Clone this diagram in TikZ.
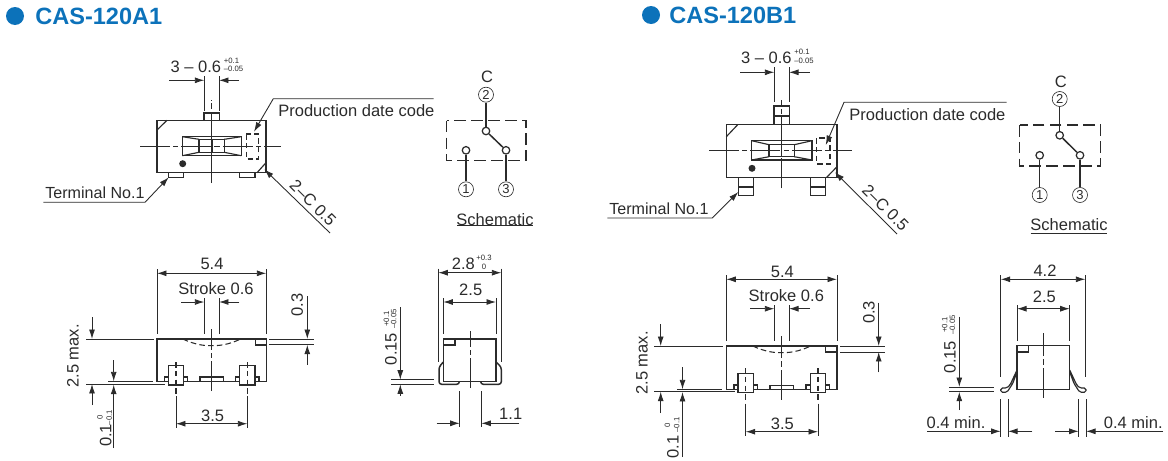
\documentclass[tikz,border=0pt]{standalone}
\usepackage{fontspec}
\setmainfont{Liberation Sans}
\usetikzlibrary{arrows.meta}
\definecolor{inkgray}{HTML}{2B2B2B}
\definecolor{titleblue}{HTML}{0C72BA}
\tikzset{
  part/.style={draw=inkgray,line width=0.85pt},
  thin part/.style={draw=inkgray,line width=0.65pt},
  dimline/.style={draw=inkgray,line width=0.5pt},
  dimtip/.style={dimline,-{Latex[length=5.4pt,width=3.4pt]}},
  dimboth/.style={dimline,{Latex[length=5.4pt,width=3.4pt]}-{Latex[length=5.4pt,width=3.4pt]}},
  axis/.style={dimline,dash pattern=on 17pt off 1.8pt on 3pt off 1.8pt},
  hidden/.style={draw=inkgray,line width=0.6pt,dash pattern=on 3.2pt off 1.8pt},
  boxdash/.style={draw=inkgray,line width=0.75pt,dash pattern=on 6.6pt off 3pt},
  txt/.style={font=\fontsize{9.4}{11}\selectfont,text=inkgray},
  termtxt/.style={font=\fontsize{9.15}{11}\selectfont,text=inkgray},
  tol/.style={font=\fontsize{4.4}{5}\selectfont,text=inkgray},
  headline/.style={font=\fontsize{13.4}{15}\selectfont\bfseries,text=titleblue,anchor=west},
  pinmark/.style={draw=inkgray,line width=0.35pt,circle,minimum size=0.3cm,font=\fontsize{7.4}{8}\selectfont,text=inkgray},
  contact/.style={draw=inkgray,line width=0.7pt,circle,fill=white,minimum size=0.15cm},
}
\begin{document}
\begin{tikzpicture}[x=0.02cm,y=-0.02cm,every node/.style={inner sep=0pt}]
\useasboundingbox (0,0) rectangle (1168,460);

% CAS-120A1
\fill[titleblue] (15,16) circle (9);
\node[headline] (titleA) at (35,16) {CAS-120A1};

% top view
\draw[part] (157,120.3) rectangle (266,172.7);
\draw[thin part] (157,130) -- (167,120.3);
\draw[thin part] (257,172.7) -- (266,162.7);
\draw[thin part] (204,120.3) rectangle (219.3,113);
\draw[thin part] (168.7,172.7) rectangle (183.7,177.7);
\draw[thin part] (239.7,172.7) rectangle (255,177.7);
\draw[part] (182.3,136.7) rectangle (241.3,155.7);
\draw[thin part] (199,139.3) rectangle (224.3,152.3);
\draw[part] (212,139.3) rectangle (224.3,152.3);
\draw[thin part] (182.3,136.7) -- (199,139.3) (241.3,136.7) -- (224.3,139.3) (182.3,155.7) -- (199,152.3) (241.3,155.7) -- (224.3,152.3);
\draw[hidden] (246.3,134) rectangle (258.7,159);
\fill[inkgray] (182.7,163.7) circle (3.5);
\draw[axis] (140,146) -- (281,146);
\draw[axis] (211.7,183) -- (211.7,100);

\draw[dimline] (204.3,76) -- (204.3,110.7);
\draw[dimline] (219,76) -- (219,110.7);
\draw[dimtip] (169,80.3) -- (204.3,80.3);
\draw[dimtip] (239,80.3) -- (219,80.3);
\node[txt,anchor=east] (pitchA) at (221.5,66.7) {3 -- 0.6};
\node[tol,anchor=west] (pitchAu) at (223.5,60.5) {+0.1};
\node[tol,anchor=west] (pitchAl) at (223.5,69.2) {--0.05};

\draw[dimtip] (433.7,98.7) -- (273.3,98.7) -- (254,131.7);
\node[txt,anchor=west] (dateA) at (278,110.5) {Production date code};
\draw[dimtip] (43.3,202.3) -- (145,202.3) -- (168.7,177.3);
\node[termtxt,anchor=west] (termA) at (45,193) {Terminal No.1};
\draw[dimtip] (330,233) -- (264.3,169.3);
\node[txt,rotate=-45] (chamA) at (313,203) {2--C 0.5};

% schematic
\draw[boxdash] (446.7,120.7) rectangle (526,160.7);
\node[txt] (labelC) at (487,77.3) {C};
\node[pinmark] (pin2) at (486,94.7) {2};
\node[pinmark] (pin1) at (466,189.3) {1};
\node[pinmark] (pin3) at (506,189.3) {3};
\node[contact] (con2) at (486,131) {};
\node[contact] (con1) at (466,150.3) {};
\node[contact] (con3) at (506,150.3) {};
\draw[part] (pin2) -- (con2);
\draw[part] (con2) -- (con3);
\draw[part] (con1) -- (pin1);
\draw[part] (con3) -- (pin3);
\node[txt] (schemA) at (495,220) {Schematic};
\draw[part,line width=0.6pt] (457,225.7) -- (533,225.7);

% front view
\draw[part] (157,339) rectangle (266.3,381.3);
\draw[thin part] (255.3,339) rectangle (266.3,345);
\draw[hidden] (182.7,339) .. controls (196,345) and (204,345.7) .. (211.7,345.7) .. controls (219,345.7) and (228,345) .. (240.7,339);
\draw[thin part,fill=white] (164.3,377) rectangle (187.7,381.3);
\draw[thin part,fill=white] (235.7,377) rectangle (259,381.3);
\draw[part,fill=white] (168.3,365.7) rectangle (183.7,385);
\draw[part,fill=white] (239.7,365.7) rectangle (255,385);
\draw[thin part,fill=white] (200,377) rectangle (223.3,381.3);
\draw[axis] (211.7,391) -- (211.7,329.3);
\draw[hidden] (176,362) -- (176,395);
\draw[hidden] (247.3,362) -- (247.3,395);

\draw[dimline] (157,269) -- (157,334);
\draw[dimline] (266.3,269) -- (266.3,334);
\draw[dimboth] (157,273.3) -- (266.3,273.3);
\node[txt] (widthA) at (212,264) {5.4};
\draw[dimline] (204.3,298) -- (204.3,334);
\draw[dimline] (219,298) -- (219,334);
\draw[dimtip] (181,302) -- (204.3,302);
\draw[dimtip] (239.3,302) -- (219,302);
\node[txt] (strokeA) at (216,288.7) {Stroke 0.6};
\draw[dimline] (176,396) -- (176,427.7);
\draw[dimline] (247.3,396) -- (247.3,427.7);
\draw[dimboth] (176,423.7) -- (247.3,423.7);
\node[txt] (pinpitchA) at (212.7,415.7) {3.5};
\draw[dimline] (269,339) -- (314,339);
\draw[dimline] (269,344.7) -- (314,344.7);
\draw[dimtip] (307.3,296) -- (307.3,339);
\draw[dimtip] (307.3,364.7) -- (307.3,344.7);
\node[txt,rotate=90] (gapA) at (297.3,305) {0.3};
\draw[dimline] (86,339) -- (153.7,339);
\draw[dimline] (86,384) -- (165,384);
\draw[dimtip] (92,317) -- (92,339);
\draw[dimtip] (92,405) -- (92,384);
\node[txt,rotate=90] (heightA) at (73,356) {2.5 max.};
\draw[dimline] (108,381.3) -- (152.7,381.3);
\draw[dimtip] (113.7,360) -- (113.7,381.3);
\draw[dimtip] (113.7,448) -- (113.7,384.7);
\node[txt,rotate=90] (standA) at (105.7,435.5) {0.1};
\node[tol,rotate=90] (standAu) at (100,417.5) {0};
\node[tol,rotate=90] (standAl) at (109.3,417.5) {--0.1};

% side view
\draw[part] (443.3,339) rectangle (496,381.3);
\draw[thin part] (443.3,339) rectangle (455,345);
\draw[axis] (470,388) -- (470,331);
\draw[part,rounded corners=1.5pt] (443.3,362) -- (439,367) -- (439,384.3) -- (459.3,384.3) -- (459.3,381.3);
\draw[part,rounded corners=1.5pt] (496,362) -- (501.3,367) -- (501.3,384.3) -- (480.7,384.3) -- (480.7,381.3);
\draw[dimline] (438.3,268.7) -- (438.3,361.7);
\draw[dimline] (501.3,268.7) -- (501.3,361.7);
\draw[dimboth] (438.3,272.7) -- (501.3,272.7);
\node[txt] (widthB) at (463.3,264) {2.8};
\node[tol] (widthBu) at (484,257.5) {+0.3};
\node[tol] (widthBl) at (484,267) {0};
\draw[dimline] (443.3,298) -- (443.3,334);
\draw[dimline] (496,298) -- (496,334);
\draw[dimboth] (443.3,302) -- (496,302);
\node[txt] (bodyA) at (470.7,290) {2.5};
\draw[dimline] (391,379.7) -- (434.3,379.7);
\draw[dimline] (391,384.3) -- (434.3,384.3);
\draw[dimtip] (400.3,307.3) -- (400.3,379.7);
\draw[dimtip] (400.3,395.7) -- (400.3,384.3);
\node[txt,rotate=90] (thickA) at (391,349) {0.15};
\node[tol,rotate=90] (thickAu) at (386.4,319) {+0.1};
\node[tol,rotate=90] (thickAl) at (393.6,319) {--0.05};
\draw[dimline] (459.7,391) -- (459.7,426.7);
\draw[dimline] (481.3,391) -- (481.3,426.7);
\draw[dimtip] (436.7,423.3) -- (459.7,423.3);
\draw[dimtip] (519.3,423.3) -- (481.3,423.3);
\node[txt] (padA) at (510.7,414) {1.1};

% CAS-120B1
\fill[titleblue] (651,15) circle (9);
\node[headline] (titleB) at (669,15) {CAS-120B1};

% top view
\draw[part] (726.3,124.7) rectangle (837,177.3);
\draw[thin part] (726.3,136.7) -- (737.7,124.7);
\draw[thin part] (826.7,177.3) -- (837,166.7);
\draw[part] (774,124.7) rectangle (789.3,106);
\draw[thin part] (774,116) -- (789.3,116);
\draw[part] (738.3,177.3) rectangle (753.3,195.7);
\draw[thin part] (738.3,187) -- (753.3,187);
\draw[part] (810.3,177.3) rectangle (825.3,195.7);
\draw[thin part] (810.3,187) -- (825.3,187);
\draw[part] (751.7,140.7) rectangle (812,160);
\draw[thin part] (769,144.7) rectangle (794.3,156.7);
\draw[part] (781.7,144.7) rectangle (794.3,156.7);
\draw[thin part] (751.7,140.7) -- (769,144.7) (812,140.7) -- (794.3,144.7) (751.7,160) -- (769,156.7) (812,160) -- (794.3,156.7);
\draw[hidden] (816.7,138) rectangle (830,164);
\fill[inkgray] (752,168.3) circle (3.5);
\draw[axis] (709,150.3) -- (852,150.3);
\draw[axis] (781.7,188.3) -- (781.7,100);

\draw[dimline] (774.3,67.3) -- (774.3,102);
\draw[dimline] (789,67.3) -- (789,102);
\draw[dimtip] (740,72.3) -- (774.3,72.3);
\draw[dimtip] (809.7,72.3) -- (789,72.3);
\node[txt,anchor=east] (pitchC) at (792,58.3) {3 -- 0.6};
\node[tol,anchor=west] (pitchCu) at (794,51.8) {+0.1};
\node[tol,anchor=west] (pitchCl) at (794,61.2) {--0.05};

\draw[dimtip] (1006.7,102.3) -- (844,102.3) -- (825.7,145);
\node[txt,anchor=west] (dateC) at (849,115) {Production date code};
\draw[dimtip] (607.3,218) -- (712.3,218) -- (738.3,192);
\node[termtxt,anchor=west] (termC) at (609,209) {Terminal No.1};
\draw[dimtip] (897,234) -- (835,172.3);
\node[txt,rotate=-45] (chamC) at (885.5,207.5) {2--C 0.5};

% schematic
\draw[boxdash] (1019.7,125) rectangle (1100.7,166);
\node[txt] (labelD) at (1060.7,81.7) {C};
\node[pinmark] (pin5) at (1059.7,99) {2};
\node[pinmark] (pin4) at (1039.7,195) {1};
\node[pinmark] (pin6) at (1080,195) {3};
\node[contact] (con5) at (1059.7,135.3) {};
\node[contact] (con4) at (1039.7,155.3) {};
\node[contact] (con6) at (1080,155.3) {};
\draw[part] (pin5) -- (con5);
\draw[part] (con5) -- (con6);
\draw[part] (con4) -- (pin4);
\draw[part] (con6) -- (pin6);
\node[txt] (schemC) at (1069,225) {Schematic};
\draw[part,line width=0.6pt] (1030.7,233.3) -- (1107,233.3);

% front view
\draw[part] (726.3,346) rectangle (837,389.7);
\draw[thin part] (825.7,346) rectangle (837,352);
\draw[hidden] (752.7,346) .. controls (766,352) and (774,352.7) .. (781.7,352.7) .. controls (789,352.7) and (798,352) .. (810.7,346);
\draw[thin part,fill=white] (734,385) rectangle (757.7,389.7);
\draw[thin part,fill=white] (806,385) rectangle (829.7,389.7);
\draw[part,fill=white] (738,373.3) rectangle (753.3,392.3);
\draw[part,fill=white] (810.3,373.3) rectangle (825.3,392.3);
\draw[thin part,fill=white] (770,385.7) rectangle (793.7,389.7);
\draw[axis] (781.7,399.7) -- (781.7,336);
\draw[hidden] (745.7,368) -- (745.7,400);
\draw[hidden] (818,368) -- (818,400);

\draw[dimline] (726.3,275) -- (726.3,341);
\draw[dimline] (837,275) -- (837,341);
\draw[dimboth] (726.3,279.3) -- (837,279.3);
\node[txt] (widthC) at (782.3,271.7) {5.4};
\draw[dimline] (774.3,305) -- (774.3,341);
\draw[dimline] (789,305) -- (789,341);
\draw[dimtip] (750.3,308.7) -- (774.3,308.7);
\draw[dimtip] (810,308.7) -- (789,308.7);
\node[txt] (strokeC) at (786.3,296) {Stroke 0.6};
\draw[dimline] (745.7,403.7) -- (745.7,436.3);
\draw[dimline] (818,403.7) -- (818,436.3);
\draw[dimboth] (745.7,431.7) -- (818,431.7);
\node[txt] (pinpitchC) at (782.3,424.3) {3.5};
\draw[dimline] (840,346) -- (885.3,346);
\draw[dimline] (840,352) -- (885.3,352);
\draw[dimtip] (878.7,302.7) -- (878.7,346);
\draw[dimtip] (878.7,372.3) -- (878.7,352);
\node[txt,rotate=90] (gapC) at (869,312.3) {0.3};
\draw[dimline] (654.3,346) -- (722.7,346);
\draw[dimline] (654.3,391.7) -- (735,391.7);
\draw[dimtip] (660.7,324) -- (660.7,346);
\draw[dimtip] (660.7,413) -- (660.7,391.7);
\node[txt,rotate=90] (heightC) at (642,363) {2.5 max.};
\draw[dimline] (677.3,389.3) -- (722,389.3);
\draw[dimtip] (682.5,367.3) -- (682.5,389.3);
\draw[dimtip] (682.5,457) -- (682.5,392);
\node[txt,rotate=90] (standC) at (673,447) {0.1};
\node[tol,rotate=90] (standCu) at (667.5,425) {0};
\node[tol,rotate=90] (standCl) at (676.7,425) {--0.1};

% side view
\draw[part] (1017,345.7) rectangle (1069.7,389.3);
\draw[thin part] (1017,345.7) rectangle (1028.3,352);
\draw[axis] (1043.3,397.7) -- (1043.3,333);
\draw[thin part,rounded corners=1pt] (1017,370) -- (1010,385) -- (1007,388) -- (1000.7,388) -- (1000.7,392.3) -- (1007,392.3) -- (1012.7,383.5) -- (1017,372);
\draw[thin part,rounded corners=1pt] (1069.7,370) -- (1076.7,385) -- (1079.7,388) -- (1086,388) -- (1086,392.3) -- (1079.7,392.3) -- (1074,383.5) -- (1069.7,372);
\draw[dimline] (1000.7,275) -- (1000.7,376.7);
\draw[dimline] (1085.3,275) -- (1085.3,376.7);
\draw[dimboth] (1000.7,279.3) -- (1085.3,279.3);
\node[txt] (widthD) at (1045,271) {4.2};
\draw[dimline] (1017,305) -- (1017,341);
\draw[dimline] (1069.7,305) -- (1069.7,341);
\draw[dimboth] (1017,308.7) -- (1069.7,308.7);
\node[txt] (bodyC) at (1044.3,296.7) {2.5};
\draw[dimline] (949.3,387) -- (994,387);
\draw[dimline] (949.3,391.7) -- (994,391.7);
\draw[dimtip] (959.3,316.7) -- (959.3,387);
\draw[dimtip] (959.3,410) -- (959.3,391.7);
\node[txt,rotate=90] (thickC) at (950,357) {0.15};
\node[tol,rotate=90] (thickCu) at (944.6,325) {+0.1};
\node[tol,rotate=90] (thickCl) at (952.5,325) {--0.05};
\draw[dimline] (1000.7,399) -- (1000.7,436.7);
\draw[dimline] (1008,399) -- (1008,436.7);
\draw[dimline] (1078.7,399) -- (1078.7,436.7);
\draw[dimline] (1086,399) -- (1086,436.7);
\draw[dimtip] (927.3,431.3) -- (1000.7,431.3);
\draw[dimtip] (1032.3,431.3) -- (1008,431.3);
\draw[dimtip] (1055,431.3) -- (1078.7,431.3);
\draw[dimtip] (1163,431.3) -- (1086,431.3);
\node[txt] (minC) at (956,422.3) {0.4 min.};
\node[txt] (minD) at (1133.3,422.3) {0.4 min.};
\end{tikzpicture}
\end{document}
